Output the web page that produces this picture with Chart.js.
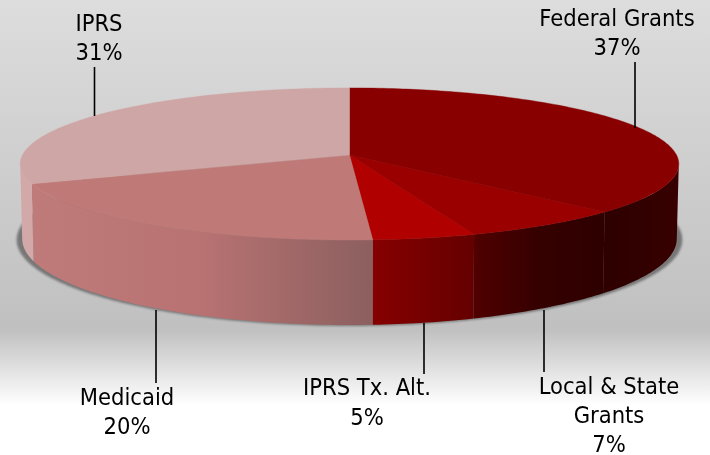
<!DOCTYPE html>
<html>
<head>
<meta charset="utf-8">
<style>html,body{margin:0;padding:0;background:#fff}canvas{display:block}</style>
<script src="https://cdn.jsdelivr.net/npm/chart.js@4"></script>
</head>
<body>
<canvas id="c" width="710" height="455"></canvas>
<script>
const categories = ["Federal Grants", "Local & State Grants", "IPRS Tx. Alt.", "Medicaid", "IPRS"];
const shares = [37.3, 7.2, 4.5, 20, 31];
const labelLines = [["Federal Grants","37%"],["Local & State","Grants","7%"],["IPRS Tx. Alt.","5%"],["Medicaid","20%"],["IPRS","31%"]];
const topColors = ["#880000","#9a0000","#b00000","#bf7a77","#cfa6a6"];
const wallFrom = ["#2e0000","#500000","#860000","#bf7a7a","#d2a8a8"];
const wallMid = ["#320000","#350000","#760000","#b87272","#d2a8a8"];
const wallTo = ["#380000","#2e0000","#640000","#8c5f5f","#d2a8a8"];
const labelX = [617,609,367,127,99];
const labelY = [[20,49],[388,417,446],[389,419],[399,428],[25,54]];
const leaders = [[635,62,128],[544,310,372],[424,323,374],[156,310,383],[94.5,67,116]];

const CX = 349.5, K = -0.118;
const TOP = {a:327, b:75, y0:155};
const BOT = {a:325, b:85, y0:228.6};
const SHD = {a:330.5, b:85, y0:229.6};
const EXT = Math.asin(0.118);
const proj = (g,t)=>{const u=Math.cos(t),v=Math.sin(t),d=1+K*v;return [CX+g.a*u/d,g.y0+g.b*v/d];};
function rim(ctx,g,s,e,move){
  const n=Math.max(2,Math.ceil(Math.abs(e-s)*60));
  for(let i=0;i<=n;i++){const p=proj(g,s+(e-s)*i/n); (move&&i===0)?ctx.moveTo(p[0],p[1]):ctx.lineTo(p[0],p[1]);}
}
const pie3d = {
  id:"pie3d",
  beforeDraw(chart){
    const ctx=chart.ctx,g=ctx.createLinearGradient(0,0,0,455);
    g.addColorStop(0,"#dddddd");g.addColorStop(0.725,"#c0c0c0");g.addColorStop(0.89,"#ffffff");g.addColorStop(1,"#ffffff");
    ctx.save();ctx.fillStyle=g;ctx.fillRect(0,0,710,455);ctx.restore();
  },
  beforeDatasetsDraw(chart){
    const ctx=chart.ctx,arcs=chart.getDatasetMeta(0).data;
    ctx.save();
    ctx.save();ctx.filter="blur(1.2px)";ctx.fillStyle="#777777";ctx.beginPath();rim(ctx,SHD,0,Math.PI*2,true);ctx.closePath();ctx.fill();ctx.restore();
    arcs.forEach((arc,i)=>{
      // only the part of the rim between the two side extremes faces the viewer
      let s=arc.startAngle,e=arc.endAngle;
      const vs=Math.max(s,EXT),ve=Math.min(e,Math.PI-EXT);
      if(ve>vs){s=vs;e=ve;}
      const p0=proj(TOP,s)[0],p1=proj(TOP,e)[0];
      const g=ctx.createLinearGradient(Math.min(p0,p1),0,Math.max(p0,p1),0);
      g.addColorStop(0,wallFrom[i]);g.addColorStop(0.5,wallMid[i]);g.addColorStop(1,wallTo[i]);
      ctx.fillStyle=g;ctx.beginPath();rim(ctx,TOP,s,e,true);rim(ctx,BOT,e,s,false);ctx.closePath();ctx.fill();
    });
    arcs.forEach((arc,i)=>{
      ctx.fillStyle=topColors[i];ctx.strokeStyle=topColors[i];ctx.lineWidth=0.4;
      ctx.beginPath();ctx.moveTo(CX,TOP.y0);rim(ctx,TOP,arc.startAngle,arc.endAngle,false);ctx.closePath();ctx.fill();ctx.stroke();
    });
    ctx.restore();
    return false;
  },
  afterDraw(chart){
    const ctx=chart.ctx;
    ctx.save();
    ctx.strokeStyle="#000";ctx.lineWidth=1.6;
    leaders.forEach(l=>{ctx.beginPath();ctx.moveTo(l[0],l[1]);ctx.lineTo(l[0],l[2]);ctx.stroke();});
    ctx.fillStyle="#000";ctx.textAlign="center";ctx.textBaseline="middle";
    ctx.font='23.5px "DejaVu Sans Condensed", "DejaVu Sans"';
    labelLines.forEach((ls,i)=>ls.forEach((t,j)=>ctx.fillText(t,labelX[i],labelY[i][j])));
    ctx.restore();
  }
};
new Chart(document.getElementById("c"),{
  type:"pie",
  data:{labels:categories,datasets:[{data:shares,backgroundColor:topColors,borderWidth:0}]},
  options:{responsive:false,animation:false,plugins:{legend:{display:false},tooltip:{enabled:false}}},
  plugins:[pie3d]
});
</script>
</body>
</html>
